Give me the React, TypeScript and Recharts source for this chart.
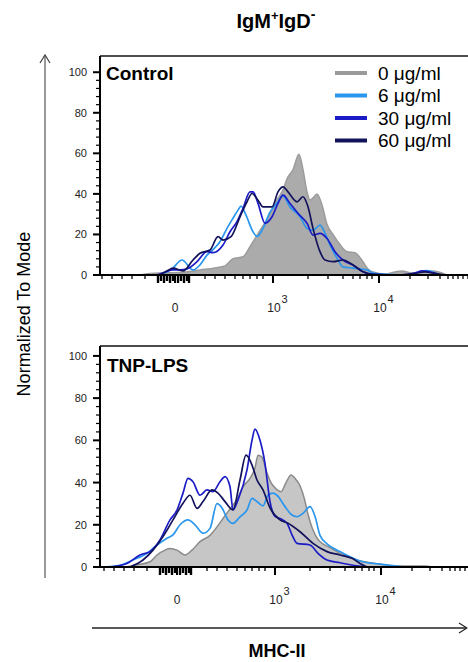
import React from "react";
import { ComposedChart, Area, Line, XAxis, YAxis, ReferenceLine, Legend } from "recharts";

type P = [number, number];

// x values are in display units of the biexponential MHC-II axis (0 -> "0", 98 -> 10^3, 204 -> 10^4)
const SERIES_NAMES = ["0 \u03bcg/ml", "6 \u03bcg/ml", "30 \u03bcg/ml", "60 \u03bcg/ml"];
const SERIES_COLORS = ["#9a9a9a", "#2a96ee", "#1c1cc6", "#12125c"];

const CONTROL_0: P[] = [[-35,0],[-25,0.8],[-10,1],[10,1.5],[25,2.5],[40,3.5],[50,4.5],[58,8],[68,9],[75,14],[85,22],[95,30],[102,37],[108,42],[112,47.5],[118,52],[124,59.5],[128,52],[132,41],[135,37],[138,38],[142,40],[147,34.5],[152,25],[158,20],[165,15],[172,11.5],[180,11],[188,6.5],[193,3],[198,1.5],[210,0.5],[220,1.5],[227,2],[237,1],[248,1.5],[258,2],[272,0]];
const CONTROL_6: P[] = [[-15,0],[-3,3],[7,7.4],[18,2.5],[25,5],[32,9.8],[39,13],[45,16.4],[52,23],[58,28],[63,32],[66,34],[71,29.5],[78,21.3],[82,19],[88,23],[95,31],[102,35.5],[108,39],[115,33.6],[125,28.7],[132,23],[138,22],[145,24.6],[150,20.7],[155,14.8],[162,8.4],[168,4],[178,3.4],[192,2.5],[198,1],[210,0.3],[235,0],[245,1.5],[252,2.2],[258,1.5],[265,0]];
const CONTROL_30: P[] = [[-18,0],[-10,1.5],[-2,2.5],[5,2.5],[12,3],[22,6.6],[32,11.5],[38,11],[48,14.8],[55,21.3],[62,26.3],[68,32.8],[75,41],[78,41],[83,35.3],[90,25.5],[97,28.7],[103,35.3],[108,39.4],[115,35.3],[123,30.4],[132,25.5],[138,19.7],[145,20.5],[152,18],[160,11.5],[168,7.4],[178,4.9],[188,1.6],[198,0.3],[225,0],[240,1],[247,2],[255,1.5],[265,0]];
const CONTROL_60: P[] = [[-15,0],[-8,2],[-2,3.4],[8,2],[18,7.4],[25,10.7],[35,12.3],[43,18.9],[48,17.2],[56,18.9],[65,28.7],[72,36.1],[77,40.2],[83,36.9],[88,33.6],[97,33.6],[103,41],[108,43.5],[113,41],[122,36.1],[128,38.6],[133,33.6],[138,23],[145,11.5],[150,7.4],[158,6.6],[168,7.4],[178,4.9],[188,1.6],[198,0.3],[225,0],[240,0.8],[250,1.5],[260,0.8],[270,0]];

const TNP_0: P[] = [[-52,0],[-40,1],[-27,2.5],[-20,5.7],[-12,8],[-7,8.8],[0,8],[8,5.7],[15,8],[23,12],[33,15],[40,19],[46,23],[53,27.5],[60,32],[66,38],[73,42],[78,47],[81,53],[85,52],[89,46],[94,40],[99,37],[104,35.7],[109,40],[114,43.6],[118,42],[123,38.5],[127,33],[131,25],[136,17.5],[141,13],[146,11],[153,9.2],[163,6.5],[173,4.5],[183,2.8],[193,2],[208,1],[223,0.5],[248,0.5],[255,0]];
const TNP_6: P[] = [[-72,0],[-57,0.8],[-44,3.3],[-30,6.5],[-20,10.4],[-10,13.6],[-4,15.2],[3,20],[11,22.3],[18,20],[26,16],[33,18.3],[40,30],[45,28],[51,22.3],[56,20.7],[63,23.8],[70,27],[75,32.5],[80,31],[86,29],[91,34],[96,35],[100,34],[108,28.6],[114,25],[120,23.8],[126,25.4],[133,28.6],[138,24],[143,15],[150,11],[156,9],[163,7.3],[173,4.9],[186,2.5],[203,1.4],[218,0.5],[228,0]];
const TNP_30: P[] = [[-67,0],[-50,1.7],[-37,5.7],[-27,7.3],[-17,12.8],[-7,22.3],[0,27],[6,35],[11,42],[16,40.4],[23,34],[30,36.5],[36,35.7],[43,40.4],[48,42.8],[53,38],[56,27],[61,31.8],[70,46],[75,60],[78,65.3],[83,60],[88,49],[93,31],[98,24],[103,23],[110,20.7],[115,15.2],[120,11.2],[133,10.4],[141,6.5],[150,3.3],[163,2],[180,0.5],[190,0]];
const TNP_60: P[] = [[-47,0],[-34,3.3],[-24,8],[-14,14.4],[-4,22.3],[6,30.2],[13,34],[20,27.8],[26,31],[35,36.5],[41,35],[48,31],[56,27],[63,41.2],[69,53],[75,48.3],[80,41.2],[86,36.5],[93,28],[103,22.3],[111,20.7],[123,16.7],[136,11.2],[150,7.3],[163,5.7],[175,4.1],[183,1.7],[190,0]];

const Y_TICKS = [0,4,8,12,16,20,24,28,32,36,40,44,48,52,56,60,64,68,72,76,80,84,88,92,96,100];
const Y_LABELED = [0,20,40,60,80,100];

const X_MAJOR = [
  { v: 0, base: "0", exp: "" },
  { v: 98, base: "10", exp: "3" },
  { v: 204, base: "10", exp: "4" },
];
const X_CLUSTER = [-17,-14,-11,-8,-5,-2,3,6,9,12,14];
const X_MINOR = [-73,-63,-53,-43,-30,30,40,50,60,68,75,82,88,133,153,168,178,185,192,197,235,253,265,273,278,283,288,293,298];
const X_TICKS = [...X_MINOR, ...X_CLUSTER, ...X_MAJOR.map((m) => m.v)].sort((a, b) => a - b);

const FONT = '"Liberation Sans", Arial, Helvetica, sans-serif';

const toObj = (arr: P[]) => arr.map(([x, y]) => ({ x, y }));

const XTick = (props: any) => {
  const { x, y, payload } = props;
  const v = payload.value;
  const major = X_MAJOR.find((m) => m.v === v);
  const ci = X_CLUSTER.indexOf(v);
  let len = 4;
  let sw = 1.3;
  if (major) { len = 8; sw = 2; }
  else if (ci >= 0) { len = ci % 2 === 0 ? 8 : 6; sw = 2.4; }
  return (
    <g>
      <line x1={x} x2={x} y1={y} y2={y + len} stroke="#000" strokeWidth={sw} />
      {major && !major.exp && (
        <text x={x} y={y + 37} textAnchor="middle" fontSize={12} fill="#222" fontFamily={FONT}>{major.base}</text>
      )}
      {major && major.exp && (
        <g>
          <text x={x + 1} y={y + 37} textAnchor="middle" fontSize={12} fill="#222" fontFamily={FONT}>{major.base}</text>
          <text x={x + 8.5} y={y + 27.5} textAnchor="start" fontSize={11} fill="#222" fontFamily={FONT}>{major.exp}</text>
        </g>
      )}
    </g>
  );
};

const YTick = (props: any) => {
  const { x, y, payload } = props;
  const v = payload.value;
  const major = Y_LABELED.includes(v);
  return (
    <g>
      <line x1={x - (major ? 7 : 4)} x2={x} y1={y} y2={y} stroke="#000" strokeWidth={major ? 2 : 1.2} />
      {major && (
        <text x={x - 13} y={y} dy={4} textAnchor="end" fontSize={11} fill="#222" fontFamily={FONT}>{v}</text>
      )}
    </g>
  );
};

const renderLegend = () => (
  <svg width={140} height={95}>
    {SERIES_NAMES.map((n, i) => (
      <g key={n}>
        <line x1={5} x2={37} y1={13 + i * 22.5} y2={13 + i * 22.5} stroke={SERIES_COLORS[i]} strokeWidth={4} />
        <text x={48} y={13 + i * 22.5 + 6.5} fontSize={19} fill="#000" fontFamily={FONT}>{n}</text>
      </g>
    ))}
  </svg>
);

type PanelProps = {
  top: number;
  marginTop: number;
  plotH: number;
  yMax: number;
  zeroPx: number;
  data: P[][];
  fill: string;
  areaStroke: string;
  legend: boolean;
};

function Panel({ top, marginTop, plotH, yMax, zeroPx, data, fill, areaStroke, legend }: PanelProps) {
  const W = 420;
  const xMin = 100 - zeroPx;
  return (
    <div style={{ position: "absolute", left: 0, top }}>
      <ComposedChart
        width={100 + W}
        height={marginTop + plotH + 45}
        margin={{ top: marginTop, right: 0, bottom: 0, left: 40 }}
      >
        <XAxis
          type="number"
          dataKey="x"
          domain={[xMin, xMin + W]}
          allowDataOverflow
          ticks={X_TICKS}
          interval={0}
          tick={XTick}
          tickLine={false}
          tickSize={0}
          tickMargin={0}
          axisLine={{ stroke: "#000", strokeWidth: 2 }}
          height={45}
        />
        <YAxis
          type="number"
          domain={[0, yMax]}
          allowDataOverflow
          ticks={Y_TICKS}
          interval={0}
          tick={YTick}
          tickLine={false}
          tickSize={0}
          tickMargin={0}
          axisLine={{ stroke: "#000", strokeWidth: 2 }}
          width={60}
        />
        <ReferenceLine y={yMax} stroke="#111" strokeWidth={1.6} ifOverflow="visible" />
        <Area
          data={toObj(data[0])}
          dataKey="y"
          name={SERIES_NAMES[0]}
          type="monotone"
          fill={fill}
          fillOpacity={1}
          stroke={areaStroke}
          strokeWidth={1.5}
          isAnimationActive={false}
          dot={false}
          activeDot={false}
        />
        {[1, 2, 3].map((i) => (
          <Line
            key={i}
            data={toObj(data[i])}
            dataKey="y"
            name={SERIES_NAMES[i]}
            type="monotone"
            stroke={SERIES_COLORS[i]}
            strokeWidth={1.7}
            dot={false}
            activeDot={false}
            isAnimationActive={false}
          />
        ))}
        {legend && (
          <Legend
            layout="vertical"
            align="center"
            verticalAlign="middle"
            content={renderLegend}
            wrapperStyle={{ left: 330, top: 60, width: 140, height: 95 }}
          />
        )}
      </ComposedChart>
    </div>
  );
}

export default function App() {
  return (
    <div
      style={{
        position: "fixed",
        left: 0,
        top: 0,
        width: 468,
        height: 662,
        overflow: "hidden",
        background: "#fff",
        fontFamily: FONT,
      }}
    >
      <Panel
        top={0}
        marginTop={56}
        plotH={219}
        yMax={108}
        zeroPx={175}
        data={[CONTROL_0, CONTROL_6, CONTROL_30, CONTROL_60]}
        fill="#ababab"
        areaStroke="#9c9c9c"
        legend={true}
      />
      <Panel
        top={330}
        marginTop={16}
        plotH={221}
        yMax={104.7}
        zeroPx={177}
        data={[TNP_0, TNP_6, TNP_30, TNP_60]}
        fill="#c6c6c6"
        areaStroke="#8a8a8a"
        legend={false}
      />
      <svg
        width={468}
        height={662}
        style={{ position: "absolute", left: 0, top: 0, pointerEvents: "none" }}
      >
        <text x={276} y={27.5} textAnchor="middle" fontSize={20} fontWeight="bold" fontFamily={FONT} fill="#000">
          IgM<tspan fontSize={13} dy={-8}>+</tspan><tspan dy={8}>IgD</tspan><tspan fontSize={14} dy={-9}>-</tspan>
        </text>
        <text x={106} y={80} fontSize={19} fontWeight="bold" fontFamily={FONT} fill="#000">Control</text>
        <text x={107} y={372} fontSize={19} fontWeight="bold" fontFamily={FONT} fill="#000">TNP-LPS</text>
        <text
          x={24}
          y={314}
          transform="rotate(-90 24 314)"
          textAnchor="middle"
          dominantBaseline="central"
          fontSize={18}
          fontFamily={FONT}
          fill="#000"
        >
          Normalized To Mode
        </text>
        <line x1={45} y1={56} x2={45} y2={578} stroke="#808080" strokeWidth={1.6} />
        <polyline points="40,63 45,55 50,63" fill="none" stroke="#444" strokeWidth={1.2} />
        <line x1={92} y1={628} x2={466} y2={628} stroke="#222" strokeWidth={1.3} />
        <polyline points="459,623 467,628 459,633" fill="none" stroke="#222" strokeWidth={1.2} />
        <text x={277} y={657} textAnchor="middle" fontSize={18} fontWeight="bold" fontFamily={FONT} fill="#000">MHC-II</text>
      </svg>
    </div>
  );
}
